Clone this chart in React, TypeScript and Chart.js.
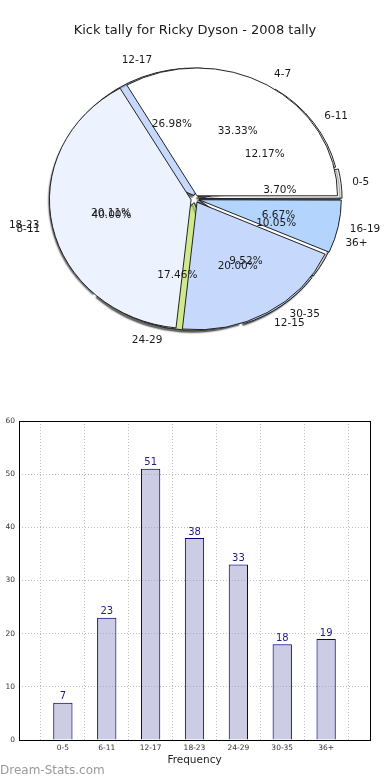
import { useEffect, useRef } from 'react';
import { Chart, registerables } from 'chart.js';

Chart.register(...registerables);

const FONT = '"DejaVu Sans", Verdana, sans-serif';

const chartTitle = 'Kick tally for Ricky Dyson - 2008 tally';
const categories = ['0-5', '6-11', '12-17', '18-23', '24-29', '30-35', '36+'];
const frequency = [7, 23, 51, 38, 33, 18, 19];
const quarterLabels = ['4-7', '8-11', '12-15', '16-19'];
const quarterValues = [5, 6, 3, 1];
const categoryColors = ['#ffffff', '#ecf2fe', '#c6d9fd', '#b3d4fd', '#d0e98a', '#c6d9fd', '#ffffff'];
const quarterColors = ['#ffffff', '#ecf2fe', '#c6d9fd', '#b3d4fd'];
const yMin = 0;
const yMax = 60;
const yStep = 10;
const xAxisTitle = 'Frequency';
const watermark = 'Dream-Stats.com';

const RATIO = 0.91;
const PIE_RADIUS = 140;

const squash = {
  id: 'squash',
  beforeDatasetsDraw(chart: any) {
    const ctx = chart.ctx;
    const a = chart.chartArea;
    const cy = (a.top + a.bottom) / 2;
    ctx.save();
    ctx.translate(0, cy);
    ctx.scale(1, RATIO);
    ctx.translate(0, -cy);
  },
  afterDatasetsDraw(chart: any) {
    chart.ctx.restore();
  },
};

const shadow = {
  id: 'shadow',
  beforeDatasetsDraw(chart: any) {
    const ctx = chart.ctx;
    ctx.shadowColor = 'rgba(0,0,0,0.6)';
    ctx.shadowOffsetX = -2;
    ctx.shadowOffsetY = 2;
    ctx.shadowBlur = 1.5;
  },
};

function drawPieLabels(ctx: CanvasRenderingContext2D, chart: any) {
  const meta = chart.getDatasetMeta(0);
  const values: number[] = chart.data.datasets[0].data;
  const labels: string[] = chart.data.labels;
  const total = values.reduce((a, b) => a + b, 0);
  meta.data.forEach((arc: any, i: number) => {
    const p = arc.getProps(['startAngle', 'endAngle', 'x', 'y', 'outerRadius'], true);
    const mid = (p.startAngle + p.endAngle) / 2;
    const c = Math.cos(mid);
    const s = Math.sin(mid);
    const pct = ((values[i] / total) * 100).toFixed(2) + '%';
    ctx.textAlign = 'center';
    ctx.textBaseline = 'middle';
    ctx.fillText(pct, p.x + 0.61 * p.outerRadius * c, p.y + 0.61 * p.outerRadius * s * RATIO);
    ctx.textAlign = c >= 0 ? 'left' : 'right';
    ctx.fillText(labels[i], p.x + 1.13 * p.outerRadius * c, p.y + 1.13 * p.outerRadius * s * RATIO);
  });
}

function pieConfig(labels: string[], values: number[], colors: string[], plugins: any[]): any {
  return {
    type: 'pie',
    data: {
      labels: [...labels].reverse(),
      datasets: [
        {
          data: [...values].reverse(),
          backgroundColor: [...colors].reverse(),
          borderColor: '#1a1a1a',
          borderWidth: 1,
          offset: 16,
          hoverOffset: 0,
        },
      ],
    },
    options: {
      responsive: false,
      animation: false,
      rotation: 90,
      radius: PIE_RADIUS,
      events: [],
      layout: { padding: 0 },
      plugins: { legend: { display: false }, tooltip: { enabled: false } },
    },
    plugins,
  };
}

const frame = {
  id: 'frame',
  afterDraw(chart: any) {
    const { ctx, chartArea: a } = chart;
    ctx.save();
    ctx.strokeStyle = '#000';
    ctx.lineWidth = 1;
    ctx.strokeRect(Math.round(a.left) + 0.5, Math.round(a.top) + 0.5, Math.round(a.right - a.left), Math.round(a.bottom - a.top));
    ctx.restore();
  },
};

const barValues = {
  id: 'barValues',
  afterDatasetsDraw(chart: any) {
    const ctx = chart.ctx;
    const meta = chart.getDatasetMeta(0);
    const data = chart.data.datasets[0].data;
    ctx.save();
    ctx.fillStyle = '#1c1c8c';
    ctx.font = `10px ${FONT}`;
    ctx.textAlign = 'center';
    ctx.textBaseline = 'bottom';
    meta.data.forEach((bar: any, i: number) => {
      const v = data[i];
      if (v === null || v === undefined) return;
      ctx.fillText(String(v), bar.x, bar.y - 1);
    });
    ctx.restore();
  },
};

function barConfig(): any {
  return {
    type: 'bar',
    data: {
      labels: ['', ...categories, ''],
      datasets: [
        {
          data: [null, ...frequency, null],
          backgroundColor: 'rgba(153,153,204,0.5)',
          borderColor: '#000080',
          borderWidth: 1,
          barPercentage: 0.44,
          categoryPercentage: 1,
        },
      ],
    },
    options: {
      responsive: false,
      animation: false,
      events: [],
      layout: { padding: { top: 21, right: 20, left: 0, bottom: 0 } },
      plugins: { legend: { display: false }, tooltip: { enabled: false } },
      scales: {
        x: {
          offset: false,
          grid: { color: '#bdbdbd', lineWidth: 1, drawTicks: false },
          border: { display: false, dash: [1, 2] },
          ticks: { font: { size: 7.5, family: FONT }, color: '#333', padding: 4, autoSkip: false, maxRotation: 0 },
          title: {
            display: true,
            text: xAxisTitle,
            color: '#222',
            font: { size: 10.5, family: FONT },
            padding: { top: 0, bottom: 13.5 },
          },
          afterFit(s: any) {
            s.height = 40;
          },
        },
        y: {
          min: yMin,
          max: yMax,
          grid: { color: '#bdbdbd', lineWidth: 1, drawTicks: false },
          border: { display: false, dash: [1, 2] },
          ticks: { stepSize: yStep, font: { size: 7.5, family: FONT }, color: '#333', padding: 4 },
          afterFit(s: any) {
            s.width = 19;
          },
        },
      },
    },
    plugins: [barValues, frame],
  };
}

export default function App() {
  const pieBackRef = useRef<HTMLCanvasElement>(null);
  const pieFrontRef = useRef<HTMLCanvasElement>(null);
  const barRef = useRef<HTMLCanvasElement>(null);

  useEffect(() => {
    Chart.defaults.font.family = FONT;
    const back = new Chart(pieBackRef.current as HTMLCanvasElement, pieConfig(categories, frequency, categoryColors, [squash, shadow]));
    const labelsPlugin = {
      id: 'pieLabels',
      afterDraw(chart: any) {
        const ctx = chart.ctx;
        ctx.save();
        ctx.fillStyle = '#1a1a1a';
        ctx.font = `10.5px ${FONT}`;
        drawPieLabels(ctx, back);
        drawPieLabels(ctx, chart);
        ctx.restore();
      },
    };
    const front = new Chart(pieFrontRef.current as HTMLCanvasElement, pieConfig(quarterLabels, quarterValues, quarterColors, [squash, labelsPlugin]));
    const bar = new Chart(barRef.current as HTMLCanvasElement, barConfig());
    return () => {
      back.destroy();
      front.destroy();
      bar.destroy();
    };
  }, []);

  return (
    <div style={{ position: 'absolute', left: 0, top: 0, width: 390, height: 780, background: '#fff', overflow: 'hidden' }}>
      <div
        style={{
          position: 'absolute',
          left: 0,
          top: 22,
          width: 390,
          textAlign: 'center',
          fontFamily: FONT,
          fontSize: 13,
          lineHeight: '16px',
          color: '#1a1a1a',
          zIndex: 3,
        }}
      >
        {chartTitle}
      </div>
      <canvas ref={pieBackRef} width={390} height={398} style={{ position: 'absolute', left: 0, top: 0, zIndex: 1 }} />
      <canvas ref={pieFrontRef} width={390} height={398} style={{ position: 'absolute', left: 0, top: 0, zIndex: 2 }} />
      <canvas ref={barRef} width={390} height={380} style={{ position: 'absolute', left: 0, top: 400, zIndex: 1 }} />
      <div
        style={{
          position: 'absolute',
          left: 0,
          top: 762,
          fontFamily: FONT,
          fontSize: 12,
          lineHeight: '16px',
          color: '#9a9a9a',
          zIndex: 3,
        }}
      >
        {watermark}
      </div>
    </div>
  );
}
